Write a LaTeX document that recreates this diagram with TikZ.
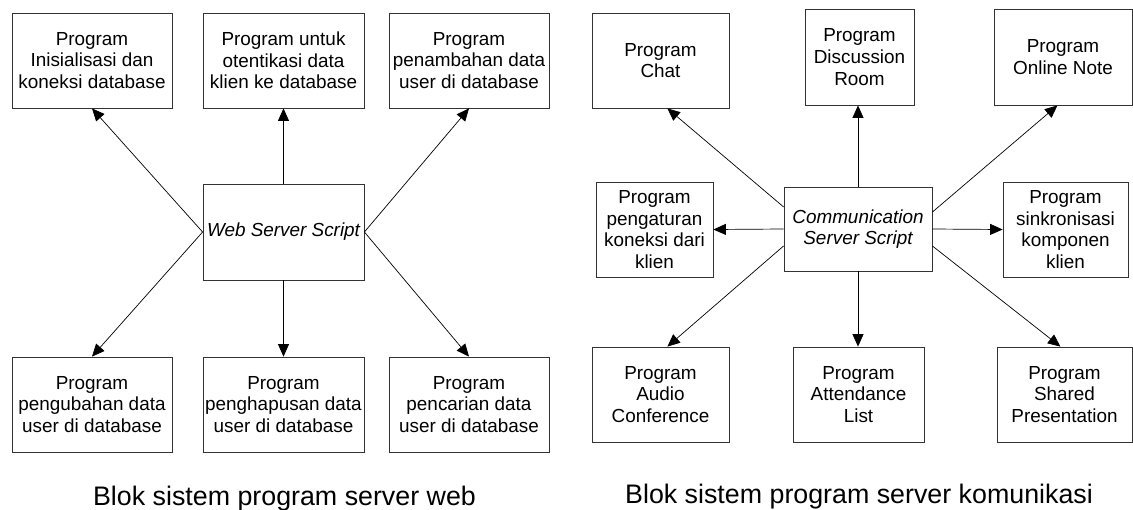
\documentclass[tikz,border=0pt]{standalone}
\usepackage{fontspec}
\setmainfont{Liberation Sans}
\usetikzlibrary{arrows.meta,calc}
\begin{document}
\begin{tikzpicture}[x=1pt,y=-1pt,
  blk/.style={draw=black!80, line width=0.8pt, rectangle, inner sep=0pt,
    align=center, font=\fontsize{18.9}{21.6}\selectfont},
  hub/.style={blk, font=\fontsize{18.9}{21.6}\selectfont\itshape},
  link/.style={line width=0.7pt, -{Triangle[length=12.5pt,width=11pt]}},
  caption/.style={anchor=base, inner sep=0pt, font=\fontsize{26.8}{30}\selectfont}]
\useasboundingbox (0,0) rectangle (1133,509);
\fill[white] (0,0) rectangle (1133,509);

% ---- web server block ----
\node[hub, minimum width=161pt, minimum height=96pt] (ws) at (283.5,232) {Web Server Script};
\node[blk, minimum width=160pt, minimum height=95pt] (tl1) at (92,60.5) {Program\\Inisialisasi dan\\koneksi database};
\node[blk, minimum width=161pt, minimum height=95pt] (tl2) at (283.5,60.5) {Program untuk\\otentikasi data\\klien ke database};
\node[blk, minimum width=160pt, minimum height=95pt] (tl3) at (469,60.5) {Program\\penambahan data\\user di database};
\node[blk, minimum width=160pt, minimum height=95pt] (bl1) at (92,404.5) {Program\\pengubahan data\\user di database};
\node[blk, minimum width=161pt, minimum height=95pt] (bl2) at (283.5,404.5) {Program\\penghapusan data\\user di database};
\node[blk, minimum width=160pt, minimum height=95pt] (bl3) at (469,404.5) {Program\\pencarian data\\user di database};

\draw[link] (ws.west) -- (tl1.south);
\draw[link] (ws.north) -- (tl2.south);
\draw[link] (ws.east) -- (tl3.south);
\draw[link] (ws.west) -- (bl1.north);
\draw[link] (ws.south) -- (bl2.north);
\draw[link] (ws.east) -- (bl3.north);

\node[caption] (capweb) at (284.5,505) {Blok sistem program server web};

% ---- communication server block ----
\node[hub, minimum width=148pt, minimum height=84pt] (cs) at (858,229) {Communication\\Server Script};
\node[blk, minimum width=137pt, minimum height=95pt] (chat) at (660.5,60.5) {Program\\Chat};
\node[blk, minimum width=109pt, minimum height=96pt] (disc) at (859.5,57) {Program\\Discussion\\Room};
\node[blk, minimum width=138pt, minimum height=96pt] (note) at (1063,57) {Program\\Online Note};
\node[blk, minimum width=117pt, minimum height=95pt] (conn) at (654.5,229.5) {Program\\pengaturan\\koneksi dari\\klien};
\node[blk, minimum width=125pt, minimum height=95pt] (sync) at (1065.5,229.5) {Program\\sinkronisasi\\komponen\\klien};
\node[blk, minimum width=137pt, minimum height=95pt] (audio) at (660.5,394.5) {Program\\Audio\\Conference};
\node[blk, minimum width=131pt, minimum height=95pt] (att) at (858.5,394.5) {Program\\Attendance\\List};
\node[blk, minimum width=135pt, minimum height=95pt] (pres) at (1064.5,394.5) {Program\\Shared\\Presentation};

\draw[link] ($(cs.north west)!0.24!(cs.south west)$) -- ($(chat.south west)!0.55!(chat.south east)$);
\draw[link] (cs.north) -- (cs.north |- disc.south);
\draw[link] ($(cs.north east)!0.3!(cs.south east)$) -- ($(note.south west)!0.46!(note.south east)$);
\draw[link] (cs.west) -- (conn.east);
\draw[link] (cs.east) -- (sync.west);
\draw[link] ($(cs.north west)!0.7!(cs.south west)$) -- ($(audio.north west)!0.55!(audio.north east)$);
\draw[link] (cs.south) -- (cs.south |- att.north);
\draw[link] ($(cs.north east)!0.7!(cs.south east)$) -- ($(pres.north west)!0.47!(pres.north east)$);

\node[caption] (capcom) at (859,503) {Blok sistem program server komunikasi};
\end{tikzpicture}
\end{document}
